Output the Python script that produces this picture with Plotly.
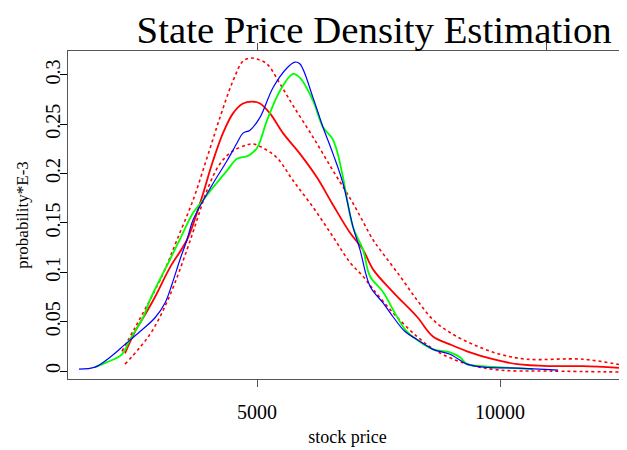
import plotly.graph_objects as go

# Blue curve
blue_x = [1337, 1667, 1975, 2284, 2592, 2901, 3107, 3251, 3416, 3560, 3683, 4095, 4383, 4589, 4712, 4856,
          5062, 5329, 5617, 5782, 5885, 6152, 6358, 6564, 6770, 6975, 7119, 7325, 7593, 7798, 8045, 8292,
          8621, 8971, 9321, 9650, 10350, 11193]
blue_y = [0.002, 0.004, 0.014, 0.027, 0.040, 0.054, 0.069, 0.088, 0.113, 0.133, 0.153, 0.190, 0.213, 0.231,
          0.241, 0.244, 0.257, 0.287, 0.307, 0.313, 0.311, 0.277, 0.247, 0.220, 0.190, 0.146, 0.123, 0.086,
          0.069, 0.055, 0.040, 0.032, 0.022, 0.017, 0.007, 0.004, 0.003, 0.001]

# Green curve
green_x = [1667, 1913, 2222, 2387, 2510, 2654, 2798, 3004, 3210, 3477, 3683, 3889, 4095, 4383, 4589, 4815,
           5000, 5206, 5473, 5741, 5885, 6152, 6358, 6543, 6646, 6770, 6975, 7181, 7325, 7593, 7881, 8086,
           8621, 8971, 9177, 9321, 9650, 10679]
green_y = [0.004, 0.009, 0.017, 0.032, 0.042, 0.054, 0.072, 0.093, 0.113, 0.140, 0.160, 0.173, 0.186, 0.203,
           0.215, 0.218, 0.226, 0.254, 0.284, 0.301, 0.297, 0.274, 0.247, 0.236, 0.223, 0.196, 0.146, 0.123,
           0.096, 0.080, 0.055, 0.040, 0.022, 0.019, 0.014, 0.007, 0.005, 0.002]

# Red solid (estimate)
red_x = [2284, 2490, 2695, 2901, 3210, 3560, 3827, 4095, 4300, 4506, 4712, 4897, 5062, 5267, 5535, 5885,
         6235, 6543, 6914, 7181, 7387, 7798, 8292, 8621, 8971, 9321, 9856, 10350, 11029, 11708, 12510]
red_y = [0.018, 0.040, 0.057, 0.075, 0.105, 0.133, 0.170, 0.213, 0.241, 0.261, 0.271, 0.273, 0.271, 0.261,
         0.241, 0.220, 0.196, 0.170, 0.140, 0.123, 0.103, 0.080, 0.055, 0.035, 0.027, 0.020, 0.012, 0.007,
         0.005, 0.005, 0.003]

# Upper confidence band (dotted)
upper_x = [2222, 2490, 2798, 3107, 3354, 3683, 3971, 4239, 4506, 4712, 4856, 5000, 5206, 5473, 5741, 6152,
           6564, 6975, 7387, 7531, 7943, 8292, 8621, 8971, 9444, 10000, 10555, 11708, 12510]
upper_y = [0.020, 0.044, 0.072, 0.103, 0.133, 0.173, 0.216, 0.257, 0.294, 0.314, 0.317, 0.316, 0.311, 0.291,
           0.269, 0.237, 0.203, 0.170, 0.133, 0.123, 0.096, 0.072, 0.052, 0.039, 0.027, 0.017, 0.012, 0.012,
           0.006]

# Lower confidence band (dotted)
lower_x = [2284, 2592, 2860, 3210, 3560, 3765, 3971, 4239, 4506, 4794, 4918, 5123, 5411, 5741, 6152, 6564,
           6914, 7181, 7387, 7798, 8292, 8704, 9321, 10000, 11029, 12510]
lower_y = [0.007, 0.024, 0.042, 0.077, 0.123, 0.153, 0.183, 0.210, 0.223, 0.229, 0.230, 0.226, 0.216, 0.193,
           0.166, 0.136, 0.110, 0.096, 0.083, 0.059, 0.035, 0.020, 0.007, 0.001, 0.000, -0.001]

x_ticks = [5000, 10000]
x_tick_labels = ["5000", "10000"]
y_ticks = [0, 0.05, 0.1, 0.15, 0.2, 0.25, 0.3]
y_tick_labels = ["0", "0.05", "0.1", "0.15", "0.2", "0.25", "0.3"]
top_ticks = [5000, 10950]

FONT = "Liberation Serif"
AXC = "#555555"

fig = go.Figure()
fig.add_trace(go.Scatter(x=upper_x, y=upper_y, mode="lines", line=dict(color="#FF0000", width=1.6, dash="dot", shape="spline"), showlegend=False))
fig.add_trace(go.Scatter(x=lower_x, y=lower_y, mode="lines", line=dict(color="#FF0000", width=1.6, dash="dot", shape="spline"), showlegend=False))
fig.add_trace(go.Scatter(x=red_x, y=red_y, mode="lines", line=dict(color="#FF0000", width=1.8, shape="spline"), showlegend=False))
fig.add_trace(go.Scatter(x=green_x, y=green_y, mode="lines", line=dict(color="#00FF00", width=1.8, shape="spline"), showlegend=False))
fig.add_trace(go.Scatter(x=blue_x, y=blue_y, mode="lines", line=dict(color="#0000FF", width=1.2, shape="spline"), showlegend=False))
# empty helper traces to activate the top axis and the label axis
fig.add_trace(go.Scatter(x=[None], y=[None], xaxis="x2", mode="lines", showlegend=False, hoverinfo="skip"))
fig.add_trace(go.Scatter(x=[None], y=[None], yaxis="y2", mode="lines", showlegend=False, hoverinfo="skip"))

xr = [1111, 12613]
yr = [-0.00805, 0.3242]
fig.update_layout(
    width=627, height=450,
    margin=dict(l=60, r=8, t=42.5, b=78.7, autoexpand=False),
    paper_bgcolor="white", plot_bgcolor="white",
    font=dict(family=FONT, color="black"),
    title=dict(text="State Price Density Estimation", font=dict(family=FONT, size=38.8, color="black"),
               x=0.584, xref="container", xanchor="center", y=0.953, yref="container", yanchor="middle",
               automargin=False),
    xaxis=dict(range=xr, tickvals=x_ticks, ticktext=x_tick_labels, showgrid=False, zeroline=False,
               automargin=False, ticklabelstandoff=8,
               showline=True, linecolor=AXC, linewidth=1.3, ticks="outside", ticklen=7, tickcolor=AXC,
               tickfont=dict(family=FONT, size=20, color="black"),
               title=dict(text="stock price", font=dict(family=FONT, size=18, color="black"), standoff=8)),
    xaxis2=dict(range=xr, overlaying="x", side="top", tickvals=top_ticks, showticklabels=False,
                automargin=False,
                showgrid=False, zeroline=False, showline=True, linecolor=AXC, linewidth=1.3,
                ticks="outside", ticklen=7, tickcolor=AXC),
    yaxis=dict(range=yr, tickvals=y_ticks, showticklabels=False,
               automargin=False,
               showgrid=False, zeroline=False, showline=True, linecolor=AXC, linewidth=1.3,
               ticks="outside", ticklen=7, tickcolor="black"),
    yaxis2=dict(range=yr, overlaying="y", anchor="free", position=0.0286, side="left",
                tickvals=y_ticks, ticktext=y_tick_labels, tickangle=-90,
                automargin=False, showgrid=False, zeroline=False, showline=False,
                ticks="outside", ticklen=16, tickcolor="rgba(0,0,0,0)",
                tickfont=dict(family=FONT, size=20, color="black"),
                title=dict(text="probability*E-3", font=dict(family=FONT, size=17, color="black"), standoff=8)),
)

fig.write_html("out.html")
